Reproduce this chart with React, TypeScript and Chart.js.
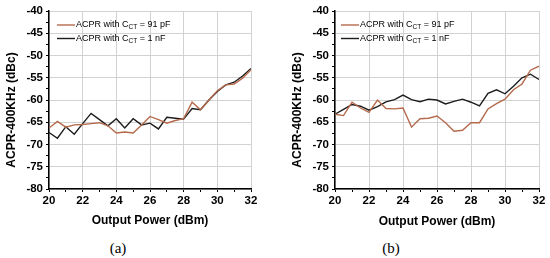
import React, { useEffect, useRef } from "react";
import { Chart, registerables } from "chart.js";

Chart.register(...registerables);

// Output power (dBm)
const power = [20, 20.5, 21, 21.5, 22, 22.5, 23, 23.5, 24, 24.5, 25, 25.5, 26, 26.5, 27, 27.5, 28, 28.5, 29, 29.5, 30, 30.5, 31, 31.5, 32];

// (a) ACPR-400KHz (dBc)
const acprA_91pF = [-66.3, -64.8, -66.1, -65.6, -65.5, -65.3, -65.1, -65.8, -67.4, -67.2, -67.4, -65.6, -63.7, -64.4, -65.2, -64.6, -64.2, -60.5, -62.2, -60.0, -57.9, -56.6, -56.4, -55.1, -53.2];
const acprA_1nF = [-67.3, -68.6, -66.0, -67.7, -65.3, -63.0, -64.4, -65.8, -64.2, -66.3, -64.2, -65.6, -65.2, -66.5, -63.9, -64.1, -64.3, -61.9, -62.2, -60.0, -58.1, -56.6, -56.0, -54.6, -52.9];

// (b) ACPR-400KHz (dBc)
const acprB_91pF = [-63.2, -63.5, -60.5, -61.8, -62.8, -60.0, -61.9, -62.0, -61.8, -66.1, -64.2, -64.1, -63.6, -65.1, -67.0, -66.8, -65.1, -65.1, -62.0, -60.8, -59.8, -57.7, -56.4, -53.3, -52.4];
const acprB_1nF = [-63.2, -62.1, -61.0, -61.4, -62.3, -61.5, -60.4, -59.9, -58.9, -59.9, -60.4, -59.8, -60.0, -60.9, -60.3, -59.8, -60.5, -61.3, -58.5, -57.7, -58.6, -56.9, -55.0, -54.2, -55.4];

const xMin = 20;
const xMax = 32;
const yMin = -80;
const yMax = -40;

const legendPrefix = "ACPR with C";
const legendSub = "CT";
const legendSuffixes = [" = 91 pF", " = 1 nF"];
const yTitle = "ACPR-400KHz (dBc)";
const xTitle = "Output Power (dBm)";

const BROWN = "#b56a4c";
const BLACK = "#1c1c1c";
const GRID = "#d2d2d2";
const FONT = "Arial, 'Liberation Sans', Helvetica, sans-serif";

type PanelProps = {
  left: number;
  yAxisWidth: number;
  padRight: number;
  titleCx: number;
  titlePadBottom: number;
  legendOffset: number;
  s91: number[];
  s1n: number[];
  caption: string;
  captionCx: number;
};

const CANVAS_W = 275;
const CANVAS_H = 232;

function Panel(p: PanelProps) {
  const ref = useRef<HTMLCanvasElement | null>(null);
  useEffect(() => {
    if (!ref.current) return;
    const overlay = {
      id: "overlay",
      afterDraw(chart: any) {
        const ctx = chart.ctx;
        const area = chart.chartArea;
        ctx.save();
        // y axis title
        ctx.translate(p.titleCx, 110);
        ctx.rotate(-Math.PI / 2);
        ctx.font = `bold 12px ${FONT}`;
        ctx.fillStyle = "#000";
        ctx.textAlign = "center";
        ctx.textBaseline = "middle";
        ctx.fillText(yTitle, 0, 0);
        ctx.restore();

        // legend
        const colors = [BROWN, BLACK];
        const rows = [25, 38.5];
        ctx.save();
        for (let i = 0; i < 2; i++) {
          const x0 = area.left + p.legendOffset;
          const y = rows[i];
          ctx.strokeStyle = colors[i];
          ctx.lineWidth = 1.4;
          ctx.beginPath();
          ctx.moveTo(x0, y);
          ctx.lineTo(x0 + 18, y);
          ctx.stroke();
          ctx.fillStyle = "#000";
          ctx.textBaseline = "middle";
          ctx.textAlign = "left";
          let tx = x0 + 19;
          ctx.font = `9px ${FONT}`;
          ctx.fillText(legendPrefix, tx, y);
          tx += ctx.measureText(legendPrefix).width;
          ctx.font = `6.5px ${FONT}`;
          ctx.fillText(legendSub, tx, y + 2.5);
          tx += ctx.measureText(legendSub).width;
          ctx.font = `9px ${FONT}`;
          ctx.fillText(legendSuffixes[i], tx, y);
        }
        ctx.restore();
      },
    };

    const chart = new Chart(ref.current, {
      type: "line",
      data: {
        datasets: [
          {
            data: power.map((x, i) => ({ x, y: p.s91[i] })),
            borderColor: BROWN,
            borderWidth: 1.4,
            pointRadius: 0,
            tension: 0,
          },
          {
            data: power.map((x, i) => ({ x, y: p.s1n[i] })),
            borderColor: BLACK,
            borderWidth: 1.4,
            pointRadius: 0,
            tension: 0,
          },
        ],
      },
      options: {
        animation: false,
        responsive: false,
        devicePixelRatio: 1,
        layout: { padding: { top: 11, right: p.padRight, left: 0, bottom: 0 } },
        plugins: { legend: { display: false }, tooltip: { enabled: false } },
        scales: {
          x: {
            type: "linear",
            min: xMin,
            max: xMax,
            afterFit: (s: any) => {
              s.height = CANVAS_H - 189;
            },
            ticks: {
              stepSize: 1,
              autoSkip: false,
              maxRotation: 0,
              padding: 2,
              color: "#000",
              font: { family: FONT, size: 11.5, weight: "bold" },
              callback: (v: any) => (Number(v) % 2 === 0 ? String(v) : ""),
            },
            grid: {
              color: (c: any) => (c.tick && Number(c.tick.value) % 2 === 0 ? GRID : "rgba(0,0,0,0)"),
              tickColor: "#000",
              tickLength: 3,
              lineWidth: 1,
            },
            border: { color: "#000", width: 1.5 },
            title: {
              display: true,
              text: xTitle,
              color: "#000",
              font: { family: FONT, size: 12, weight: "bold" },
              padding: { top: 0, bottom: p.titlePadBottom },
            },
          },
          y: {
            type: "linear",
            min: yMin,
            max: yMax,
            afterFit: (s: any) => {
              s.width = p.yAxisWidth;
            },
            ticks: {
              stepSize: 2.5,
              autoSkip: false,
              padding: 3,
              color: "#000",
              font: { family: FONT, size: 11.5, weight: "bold" },
              callback: (v: any) => (Number(v) % 5 === 0 ? String(v) : ""),
            },
            grid: {
              color: (c: any) => (c.tick && Number(c.tick.value) % 5 === 0 ? GRID : "rgba(0,0,0,0)"),
              tickColor: "#000",
              tickLength: 3,
              lineWidth: 1,
            },
            border: { color: "#000", width: 1.5 },
            title: { display: false },
          },
        },
      },
      plugins: [overlay],
    } as any);
    return () => chart.destroy();
  }, []);

  return (
    <div style={{ position: "absolute", left: p.left, top: 0, width: CANVAS_W, height: 258 }}>
      <canvas
        ref={ref}
        width={CANVAS_W}
        height={CANVAS_H}
        style={{ position: "absolute", left: 0, top: 0, width: CANVAS_W, height: CANVAS_H }}
      />
      <div
        style={{
          position: "absolute",
          left: p.captionCx - 30,
          width: 60,
          top: 239,
          height: 18,
          lineHeight: "18px",
          textAlign: "center",
          fontFamily: "'Liberation Serif', 'Times New Roman', serif",
          fontSize: 15,
          color: "#000",
        }}
      >
        {p.caption}
      </div>
    </div>
  );
}

export default function App() {
  return (
    <div style={{ position: "absolute", left: 0, top: 0, width: 550, height: 258, background: "#fff", overflow: "hidden" }}>
      <Panel
        left={0}
        yAxisWidth={49}
        padRight={24}
        titleCx={12}
        titlePadBottom={4}
        legendOffset={8}
        s91={acprA_91pF}
        s1n={acprA_1nF}
        caption="(a)"
        captionCx={118}
      />
      <Panel
        left={275}
        yAxisWidth={60}
        padRight={11}
        titleCx={23}
        titlePadBottom={3}
        legendOffset={6}
        s91={acprB_91pF}
        s1n={acprB_1nF}
        caption="(b)"
        captionCx={116}
      />
    </div>
  );
}
